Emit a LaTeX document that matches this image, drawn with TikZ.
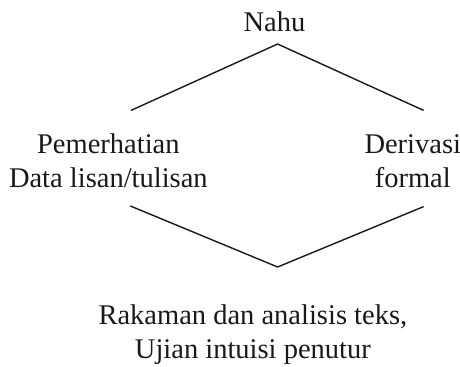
\documentclass[tikz,border=0pt]{standalone}
\usepackage{fontspec}
\setmainfont{Liberation Serif}
\usepackage{tikz}
\tikzstyle{plainText} = [shape=rectangle, text=black!90, align=center,
	font=\fontsize{14.25}{17}\selectfont]
\tikzstyle{plainLine} = [line width=0.7pt, draw=black!90]

\begin{document}
\begin{tikzpicture}[node distance=2.45cm, x=1pt, y=1pt]
  \useasboundingbox (0,0) rectangle (230,183);
  \node (NAHU) [plainText] at (137.25,172.3) {Nahu};
  \node (PEMER) [plainText, below of=NAHU, xshift=-2.92cm] {Pemerhatian\\Data lisan/tulisan};
  \node (DERIV) [plainText, right of=PEMER, xshift=2.9cm] {Derivasi\\formal};
  \node (RAKAM) [plainText, below of=NAHU, xshift=-0.38cm, yshift=-3.05cm] {Rakaman dan analisis teks,\\Ujian intuisi penutur};

  \coordinate (TL) at (65.5,127.8);
  \coordinate (TOP) at (138.8,161);
  \coordinate (TR) at (211.8,127.8);
  \coordinate (BL) at (65.2,80);
  \coordinate (BOT) at (138.8,49.5);
  \coordinate (BR) at (211.8,79.7);

  \draw [plainLine] (TL) -- (TOP) -- (TR);
  \draw [plainLine] (BL) -- (BOT) -- (BR);

\end{tikzpicture}
\end{document}
